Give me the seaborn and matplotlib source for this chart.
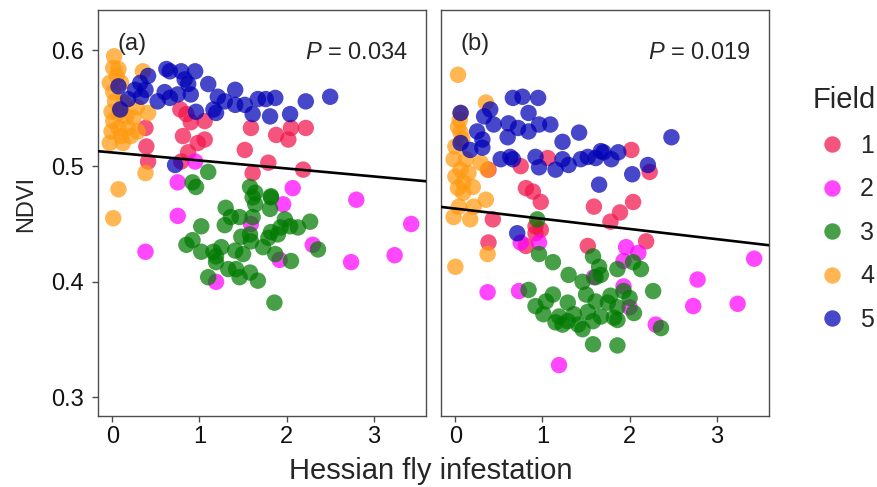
import numpy as np
import pandas as pd
import seaborn as sns
import matplotlib.pyplot as plt

# ---- data: Hessian fly infestation (x) vs NDVI (y) ----
FIELDS = ['1', '2', '3', '4', '5']
COLORS = {'1': '#F2144B', '2': '#FF00FF', '3': '#007A00', '4': '#FF9A10', '5': '#0000B4'}

# panel (a)
a_x1 = [0.38, 0.39, 0.41, 0.78, 0.85, 0.90, 0.81, 1.06, 0.98, 1.06, 0.87, 0.79, 1.52, 1.59, 1.61,
        1.88, 2.05, 2.02, 2.22, 1.79, 2.19]
a_y1 = [0.533, 0.517, 0.504, 0.549, 0.545, 0.538, 0.526, 0.539, 0.520, 0.523, 0.512, 0.504, 0.514,
        0.533, 0.494, 0.527, 0.533, 0.523, 0.533, 0.503, 0.497]
a_x2 = [0.95, 0.75, 2.07, 2.80, 1.96, 0.75, 1.59, 3.43, 0.38, 2.30, 1.92, 2.74, 3.24, 1.19]
a_y2 = [0.504, 0.486, 0.481, 0.471, 0.467, 0.457, 0.450, 0.450, 0.426, 0.432, 0.419, 0.417, 0.423, 0.400]
a_x3 = [1.61, 1.64, 1.82, 1.30, 1.81, 1.36, 1.46, 1.61, 1.29, 1.02, 1.98, 2.04, 2.13, 2.27, 1.93,
        1.82, 0.92, 0.85, 1.48, 1.58, 1.59, 1.79, 1.90, 1.02, 1.16, 1.25, 1.41, 1.50, 1.73, 1.87,
        2.36, 1.19, 1.19, 2.05, 1.33, 1.42, 1.58, 1.10, 1.46, 1.67, 1.86, 1.10, 0.92, 0.96, 1.58,
        1.64, 1.82]
a_y3 = [0.473, 0.467, 0.473, 0.464, 0.463, 0.456, 0.456, 0.456, 0.449, 0.448, 0.454, 0.448, 0.447,
        0.452, 0.447, 0.443, 0.436, 0.432, 0.439, 0.441, 0.435, 0.438, 0.441, 0.426, 0.426, 0.430,
        0.427, 0.424, 0.430, 0.424, 0.428, 0.422, 0.417, 0.418, 0.411, 0.411, 0.408, 0.404, 0.404,
        0.401, 0.382, 0.495, 0.486, 0.482, 0.482, 0.477, 0.474]
a_x4 = [0.02, 0.01, 0.07, 0.35, -0.03, 0.10, 0.01, 0.03, -0.01, 0.07, 0.16, 0.24, 0.41, 0.01, 0.07,
        0.18, 0.29, -0.01, 0.10, 0.21, -0.03, 0.12, 0.38, 0.07, 0.01, 0.28, 0.05, 0.13]
a_y4 = [0.595, 0.585, 0.584, 0.582, 0.572, 0.572, 0.564, 0.556, 0.547, 0.546, 0.543, 0.542, 0.546,
        0.539, 0.533, 0.533, 0.530, 0.530, 0.526, 0.526, 0.520, 0.520, 0.494, 0.480, 0.455, 0.551,
        0.578, 0.555]
a_x5 = [0.07, 0.09, 0.18, 0.26, 0.32, 0.41, 0.38, 0.33, 0.52, 0.62, 0.66, 0.60, 0.66, 0.75, 0.79,
        0.83, 0.87, 0.95, 0.90, 0.96, 1.10, 1.16, 1.21, 1.29, 1.19, 1.41, 1.41, 1.52, 1.61, 1.67,
        0.72, 1.76, 1.87, 1.81, 2.04, 2.22, 2.50]
a_y5 = [0.569, 0.549, 0.558, 0.566, 0.572, 0.578, 0.566, 0.560, 0.556, 0.584, 0.582, 0.564, 0.559,
        0.562, 0.582, 0.575, 0.571, 0.582, 0.562, 0.547, 0.571, 0.549, 0.560, 0.556, 0.546, 0.566,
        0.553, 0.553, 0.545, 0.558, 0.501, 0.558, 0.559, 0.543, 0.545, 0.556, 0.560]

# panel (b)
b_x1 = [1.06, 0.75, 0.38, 0.81, 0.89, 0.98, 1.59, 0.43, 0.92, 2.02, 2.23, 2.04, 1.89, 1.78, 0.38,
        0.81, 0.92, 0.98, 1.52, 2.19]
b_y1 = [0.507, 0.500, 0.497, 0.481, 0.478, 0.469, 0.465, 0.454, 0.448, 0.514, 0.495, 0.469, 0.460,
        0.452, 0.434, 0.431, 0.442, 0.445, 0.431, 0.435]
b_x2 = [0.75, 0.96, 1.96, 2.10, 1.93, 1.59, 1.93, 2.00, 0.37, 0.73, 2.78, 3.43, 2.73, 3.24, 2.30, 1.19]
b_y2 = [0.434, 0.434, 0.430, 0.425, 0.418, 0.404, 0.396, 0.378, 0.391, 0.392, 0.402, 0.420, 0.379,
        0.381, 0.363, 0.328]
b_x3 = [0.94, 0.96, 1.12, 1.58, 1.65, 1.61, 1.67, 1.30, 1.46, 1.86, 2.04, 2.13, 0.84, 1.12, 1.50,
        1.78, 1.93, 2.00, 2.27, 0.92, 1.04, 1.29, 1.61, 1.75, 1.86, 2.05, 1.01, 1.19, 1.36, 1.52,
        1.67, 1.82, 1.15, 1.29, 1.41, 1.58, 1.86, 1.23, 1.46, 2.36, 1.58, 1.86]
b_y3 = [0.454, 0.424, 0.417, 0.422, 0.413, 0.404, 0.406, 0.406, 0.400, 0.411, 0.417, 0.411, 0.393,
        0.389, 0.389, 0.388, 0.392, 0.386, 0.392, 0.379, 0.383, 0.382, 0.383, 0.382, 0.378, 0.373,
        0.372, 0.370, 0.372, 0.374, 0.370, 0.369, 0.365, 0.366, 0.363, 0.366, 0.367, 0.363, 0.359,
        0.360, 0.346, 0.345]
b_x4 = [0.03, 0.35, 0.06, 0.03, 0.06, 0.00, -0.02, 0.12, 0.29, 0.06, 0.15, 0.00, 0.09, 0.03, 0.20,
        0.09, 0.37, 0.35, 0.21, 0.04, -0.02, 0.17, 0.00, 0.37, 0.08, 0.05]
b_y4 = [0.579, 0.555, 0.546, 0.534, 0.529, 0.517, 0.506, 0.506, 0.503, 0.497, 0.494, 0.491, 0.486,
        0.481, 0.482, 0.477, 0.497, 0.471, 0.465, 0.465, 0.456, 0.454, 0.413, 0.424, 0.523, 0.540]
b_x5 = [0.66, 0.77, 0.95, 0.84, 0.06, 0.40, 0.33, 0.44, 0.61, 0.72, 0.84, 0.96, 1.09, 1.42, 0.60,
        0.25, 0.31, 0.06, 0.17, 0.31, 1.23, 0.52, 0.63, 0.66, 0.92, 0.96, 1.15, 1.23, 1.30, 1.44,
        1.52, 1.61, 1.67, 1.65, 1.70, 1.79, 1.87, 2.03, 2.21, 2.48, 0.71]
b_y5 = [0.559, 0.560, 0.559, 0.546, 0.546, 0.549, 0.543, 0.536, 0.537, 0.533, 0.530, 0.536, 0.536,
        0.529, 0.525, 0.530, 0.523, 0.520, 0.514, 0.516, 0.521, 0.506, 0.508, 0.506, 0.508, 0.499,
        0.497, 0.506, 0.501, 0.506, 0.508, 0.507, 0.513, 0.484, 0.512, 0.506, 0.512, 0.493, 0.501,
        0.525, 0.442]

# fitted lines (intercept, slope) and p-values
fit_a = (0.5118, -0.0069)
fit_b = (0.4633, -0.0088)
p_a = '0.034'
p_b = '0.019'


def make_df(xs, ys):
    parts = []
    for f, x, y in zip(FIELDS, xs, ys):
        parts.append(pd.DataFrame({'x': x, 'y': y, 'Field': f}))
    return pd.concat(parts, ignore_index=True)


df_a = make_df([a_x1, a_x2, a_x3, a_x4, a_x5], [a_y1, a_y2, a_y3, a_y4, a_y5])
df_b = make_df([b_x1, b_x2, b_x3, b_x4, b_x5], [b_y1, b_y2, b_y3, b_y4, b_y5])

sns.set_style("ticks")
plt.rcParams['font.family'] = ['Liberation Sans', 'DejaVu Sans']
plt.rcParams['mathtext.fontset'] = 'custom'
plt.rcParams['mathtext.rm'] = 'Liberation Sans'
plt.rcParams['mathtext.it'] = 'Liberation Sans:italic'

fig = plt.figure(figsize=(8.78, 4.87), dpi=100)
ax_a = fig.add_axes([98 / 878, 1 - 416 / 487, 328 / 878, 406 / 487])
ax_b = fig.add_axes([441 / 878, 1 - 416 / 487, 328 / 878, 406 / 487])

for ax, df, fit, p, tag in [(ax_a, df_a, fit_a, p_a, '(a)'), (ax_b, df_b, fit_b, p_b, '(b)')]:
    sns.scatterplot(data=df, x='x', y='y', hue='Field', hue_order=FIELDS, palette=COLORS,
                    s=140, alpha=0.72, linewidth=0, ax=ax, legend=(ax is ax_a))
    ax.axline((0, fit[0]), slope=fit[1], color='black', lw=1.9, zorder=5)
    ax.set_xlim(-0.165, 3.6)
    ax.set_ylim(0.284, 0.635)
    ax.set_xticks([0, 1, 2, 3])
    ax.set_yticks([0.3, 0.4, 0.5, 0.6])
    ax.set_xlabel('')
    ax.set_ylabel('')
    for sp in ax.spines.values():
        sp.set_color('#4d4d4d')
        sp.set_linewidth(1.0)
    ax.tick_params(axis='both', length=4.5, width=1.0, color='#4d4d4d', labelsize=17,
                   labelcolor='#111111', pad=3)
    ax.text(0.058, 0.917, tag, transform=ax.transAxes, ha='left', va='center', fontsize=17)
    ax.text(0.945, 0.893, r'$P$ = ' + p, transform=ax.transAxes, ha='right', va='center',
            fontsize=17)

ax_a.tick_params(axis='y', pad=5.5)
ax_a.set_yticklabels(['0.3', '0.4', '0.5', '0.6'])
ax_a.set_ylabel('NDVI', fontsize=17, labelpad=10)
ax_a.yaxis.label.set_y(0.522)
ax_b.tick_params(axis='y', left=False, labelleft=False)

handles, labels = ax_a.get_legend_handles_labels()
ax_a.get_legend().remove()
leg = fig.legend(handles, labels, title='Field', loc='center left',
                 bbox_to_anchor=(790 / 878, 1 - 209 / 487), frameon=False,
                 fontsize=18, title_fontsize=21, markerscale=1.0, labelspacing=0.78,
                 handletextpad=0.3, handlelength=1.6, alignment='left')

fig.text(431 / 878, 1 - 471 / 487, 'Hessian fly infestation', ha='center', va='center',
         fontsize=21)

fig.savefig('out.png', dpi=100)
